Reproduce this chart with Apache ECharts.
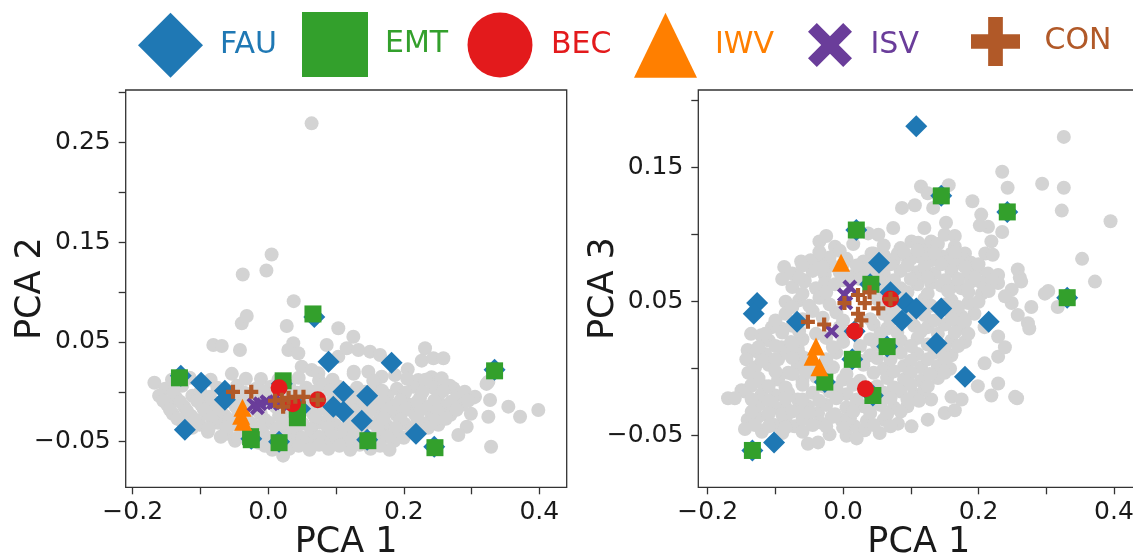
<!DOCTYPE html>
<html>
<head>
<meta charset="utf-8">
<script src="https://cdn.jsdelivr.net/npm/echarts@6/dist/echarts.min.js"></script>
<style>
  html, body { margin: 0; padding: 0; background: #fff; }
  #chart { width: 1133px; height: 559px; }
</style>
</head>
<body>
<div id="chart"></div>
<script>
// tick positions / labelled ticks
var xTicks = [-0.2, -0.1, 0, 0.1, 0.2, 0.3, 0.4];
var xLabels = [-0.2, 0, 0.2, 0.4];
var pc2Ticks = [-0.05, 0, 0.05, 0.1, 0.15, 0.2, 0.25, 0.3];
var pc2Labels = [-0.05, 0.05, 0.15, 0.25];
var pc3Ticks = [-0.05, 0, 0.05, 0.1, 0.15, 0.2];
var pc3Labels = [-0.05, 0.05, 0.15];

// ---- PCA 1 vs PCA 2 ----
var otherPc12 = [
  [0.064,0.269],[0.005,0.1375],[-0.0376,0.1175],[-0.0027,0.1215],[0.0376,0.0908],[-0.039,0.0686],[-0.0317,0.076],
  [0.0273,0.0659],[0.1034,0.0636],[0.1256,0.0552],[-0.081,0.0469],[-0.0686,0.0459],[-0.0417,0.0419],[0.037,0.0486],
  [0.0297,0.0419],[0.0444,0.0386],[0.0863,0.0469],[0.1034,0.0352],[0.1158,0.0436],[0.133,0.0419],[0.1503,0.0402],
  [0.165,0.0369],[0.2314,0.0436],[0.2265,0.0312],[0.2437,0.0336],[0.2584,0.0336],[0.2058,0.0225],[0.0494,0.0252],
  [0.0642,0.0218],[0.074,0.0185],[0.1262,0.0201],[0.1477,0.0201],[0.1675,0.0151],[0.1871,0.0168],[0.2215,0.0118],
  [0.241,0.0145],[0.2559,0.0135],[0.2731,0.0035],[0.3248,0.0101],[-0.168,0.0091],[0.3051,-0.0049],[0.3273,-0.0082],
  [0.3248,-0.025],[0.3543,-0.0149],[0.3716,-0.025],[0.3985,-0.0182],[0.2929,-0.035],[0.2805,-0.0433],[0.3288,-0.055],
  [-0.0537,0.018],[-0.0107,0.0129],[0.075,0.0112],[0.126,0.018],[0.3221,0.0079],
  [-0.152,0.003],[-0.127,0.006],[-0.075,0.004],[-0.046,0.006],[-0.018,0.003],[0.004,0.005],[0.031,0.006],[0.056,0.004],
  [0.081,0.007],[0.104,0.005],[0.131,0.004],[0.158,0.006],[0.19,0.003],[0.214,0.005],[0.244,0.004],[0.268,0.006],
  [-0.161,-0.004],[-0.136,-0.006],[-0.112,-0.004],[-0.086,-0.005],[-0.052,-0.006],[-0.026,-0.004],[0.001,-0.005],
  [0.026,-0.006],[0.052,-0.004],[0.076,-0.006],[0.099,-0.004],[0.124,-0.005],[0.152,-0.006],[0.176,-0.004],
  [0.199,-0.005],[0.224,-0.006],[0.251,-0.004],[0.279,-0.005],[0.302,-0.006],
  [-0.149,-0.013],[-0.124,-0.015],[-0.099,-0.013],[-0.076,-0.015],[-0.049,-0.014],[-0.021,-0.013],[0.011,-0.015],
  [0.034,-0.014],[0.061,-0.013],[0.086,-0.015],[0.109,-0.014],[0.136,-0.013],[0.161,-0.015],[0.184,-0.014],
  [0.209,-0.013],[0.236,-0.015],[0.259,-0.014],[0.286,-0.013],
  [-0.141,-0.022],[-0.114,-0.024],[-0.091,-0.022],[-0.064,-0.024],[-0.041,-0.023],[-0.011,-0.022],[0.016,-0.024],
  [0.039,-0.023],[0.066,-0.022],[0.091,-0.024],[0.114,-0.023],[0.141,-0.022],[0.166,-0.024],[0.189,-0.023],
  [0.216,-0.022],[0.241,-0.024],[0.269,-0.023],[0.299,-0.022],
  [-0.126,-0.031],[-0.101,-0.033],[-0.074,-0.031],[-0.049,-0.033],[-0.024,-0.032],[0.001,-0.031],[0.026,-0.033],
  [0.051,-0.032],[0.076,-0.031],[0.099,-0.033],[0.126,-0.032],[0.151,-0.031],[0.174,-0.033],[0.201,-0.032],
  [0.226,-0.031],[0.251,-0.033],
  [-0.089,-0.04],[-0.061,-0.042],[-0.036,-0.041],[-0.009,-0.04],[0.014,-0.042],[0.041,-0.041],[0.064,-0.04],
  [0.091,-0.042],[0.116,-0.041],[0.139,-0.04],[0.166,-0.042],[0.189,-0.041],[0.214,-0.04],
  [-0.049,-0.049],[-0.014,-0.051],[0.011,-0.05],[0.036,-0.049],[0.059,-0.051],[0.086,-0.05],[0.111,-0.049],
  [0.136,-0.051],[0.159,-0.05],[0.186,-0.049],
  [0.006,-0.058],[0.031,-0.057],[0.061,-0.058],[0.089,-0.057],[0.121,-0.058],[0.151,-0.057],[0.179,-0.058],[0.022,-0.064],
  [-0.142,0.012],[-0.116,0.014],[-0.085,0.012],[-0.033,0.013],[0.015,0.012],[0.045,0.014],[0.095,0.012],[0.155,0.011],
  [0.205,0.013],[0.232,0.012]
];
var otherPc12Dense = [
  [-0.14,-0.001],[-0.1,0.0],[-0.062,0.001],[-0.035,-0.001],[-0.008,0.0],[0.018,0.001],[0.043,-0.001],[0.068,0.0],
  [0.092,0.001],[0.117,-0.001],[0.143,0.0],[0.168,0.001],[0.202,-0.001],[0.228,0.0],[0.258,0.001],[0.29,0.0],
  [-0.155,-0.009],[-0.13,-0.01],[-0.105,-0.009],[-0.082,-0.01],[-0.06,-0.009],[-0.035,-0.01],[-0.008,-0.009],
  [0.018,-0.01],[0.045,-0.009],[0.07,-0.01],[0.095,-0.009],[0.12,-0.01],[0.145,-0.009],[0.17,-0.01],[0.195,-0.009],
  [0.22,-0.01],[0.245,-0.009],[0.27,-0.01],[0.295,-0.009],
  [-0.145,-0.018],[-0.12,-0.019],[-0.095,-0.018],[-0.07,-0.019],[-0.045,-0.018],[-0.016,-0.019],[0.022,-0.018],
  [0.05,-0.019],[0.075,-0.018],[0.1,-0.019],[0.125,-0.018],[0.15,-0.019],[0.175,-0.018],[0.2,-0.019],[0.225,-0.018],
  [0.25,-0.019],[0.278,-0.018],
  [-0.134,-0.027],[-0.108,-0.028],[-0.083,-0.027],[-0.058,-0.028],[-0.032,-0.027],[-0.005,-0.028],[0.02,-0.027],
  [0.045,-0.028],[0.07,-0.027],[0.088,-0.028],[0.12,-0.027],[0.146,-0.028],[0.17,-0.027],[0.195,-0.028],[0.22,-0.027],
  [0.245,-0.028],[0.262,-0.027],
  [-0.112,-0.036],[-0.088,-0.037],[-0.062,-0.036],[-0.038,-0.037],[-0.012,-0.036],[0.012,-0.037],[0.038,-0.036],
  [0.063,-0.037],[0.088,-0.036],[0.112,-0.037],[0.138,-0.036],[0.162,-0.037],[0.188,-0.036],[0.212,-0.037],[0.236,-0.036],
  [-0.07,-0.045],[-0.045,-0.046],[-0.02,-0.045],[0.0,-0.046],[0.025,-0.045],[0.05,-0.046],[0.075,-0.045],[0.1,-0.046],
  [0.125,-0.045],[0.15,-0.046],[0.175,-0.045],[0.2,-0.046],
  [-0.005,-0.054],[0.045,-0.054],[0.075,-0.053],[0.105,-0.054],[0.135,-0.053],[0.165,-0.054]
];
var fauPc12 = [
  [-0.129,0.016],[-0.099,0.009],[-0.064,0.001],[-0.064,-0.008],[-0.123,-0.038],[-0.025,-0.047],[0.016,-0.050],
  [0.020,0.008],[0.047,-0.017],[0.068,0.075],[0.089,0.030],[0.111,0.000],[0.096,-0.015],[0.111,-0.020],
  [0.146,-0.004],[0.138,-0.029],[0.146,-0.048],[0.182,0.029],[0.218,-0.042],[0.245,-0.055],[0.334,0.022]
];
var emtPc12 = [
  [-0.131,0.014],[-0.025,-0.048],[-0.026,-0.045],[0.016,-0.051],[0.022,0.011],[0.043,-0.018],[0.043,-0.026],
  [0.066,0.078],[0.147,-0.049],[0.246,-0.056],[0.334,0.021]
];
var becPc12 = [[0.016,0.004],[0.036,-0.012],[0.073,-0.008]];
var iwvPc12 = [[-0.038,-0.016],[-0.040,-0.024],[-0.037,-0.030]];
var isvPc12 = [[-0.021,-0.013],[-0.012,-0.012],[-0.002,-0.010],[0.008,-0.011],[0.018,-0.012],[-0.016,-0.016]];
var conPc12 = [
  [-0.052,0.000],[-0.025,0.000],[0.010,-0.009],[0.020,-0.008],[0.030,-0.006],[0.040,-0.005],[0.052,-0.005],
  [0.022,-0.015],[0.073,-0.008]
];

// ---- PCA 1 vs PCA 3 ----
var otherPc13 = [
  [0.326,0.173],[0.235,0.147],[0.243,0.135],[0.294,0.138],[0.326,0.135],[0.323,0.118],[0.395,0.110],
  [0.115,0.136],[0.125,0.131],[0.156,0.137],[0.106,0.122],[0.087,0.120],[0.133,0.120],[0.191,0.125],
  [0.204,0.115],[0.214,0.106],[0.202,0.107],[0.235,0.102],[0.219,0.095],[0.074,0.105],[0.120,0.105],
  [0.152,0.109],[0.150,0.100],[0.165,0.099],[0.052,0.100],[0.037,0.101],[0.101,0.095],[0.111,0.094],[0.121,0.091],[0.130,0.095],
  [0.165,0.091],[0.180,0.086],[0.210,0.086],[0.221,0.085],[-0.035,0.095],[-0.025,0.099],
  [0.042,0.086],[0.061,0.084],[0.081,0.086],[0.096,0.081],[0.111,0.084],[0.130,0.081],[0.145,0.084],[0.160,0.086],
  [0.175,0.084],[0.189,0.079],[0.199,0.074],[0.214,0.071],[0.229,0.070],
  [-0.087,0.076],[-0.062,0.080],[-0.037,0.079],[-0.017,0.077],[-0.057,0.066],[-0.027,0.070],[0.012,0.069],[0.022,0.071],
  [0.258,0.074],[0.261,0.068],[0.353,0.082],[0.372,0.065],
  [-0.057,0.065],[-0.027,0.064],[0.130,0.064],[0.160,0.061],[0.189,0.065],[0.229,0.064],[0.249,0.059],[0.263,0.065],
  [0.303,0.058],[-0.085,0.050],[-0.091,0.030],[-0.136,0.026],[-0.121,0.025],[-0.141,0.014],[-0.128,0.013],
  [-0.143,0.007],[-0.096,0.007],[-0.091,0.016],[-0.077,0.020],[-0.067,0.015],[-0.057,0.008],[-0.170,-0.022],
  [-0.150,-0.016],[-0.136,-0.013],[-0.116,-0.013],[-0.096,-0.008],[-0.081,-0.003],[-0.067,0.002],
  [-0.141,-0.038],[-0.126,-0.036],[-0.111,-0.035],[-0.101,-0.042],[-0.145,-0.045],[-0.086,-0.028],[-0.072,-0.043],
  [-0.052,-0.056],[-0.037,-0.055],[-0.081,-0.018],[-0.067,-0.023],[-0.052,-0.028],[-0.037,-0.033],[-0.017,-0.036],
  [-0.003,-0.038],[0.017,-0.043],[0.032,-0.046],[0.054,-0.048],[0.081,-0.041],[0.101,-0.043],[0.125,-0.038],
  [0.150,-0.033],[0.165,-0.031],[0.130,-0.023],[0.160,-0.021],[0.175,-0.023],[0.199,-0.013],[0.219,-0.020],
  [0.229,-0.011],[0.254,-0.021],[0.209,0.004],[0.229,0.009],[0.239,0.016],[0.229,0.024],[0.209,0.031],
  [0.194,0.041],[0.185,0.049],[0.258,0.040],[0.273,0.034],[0.278,0.046],[0.249,0.049],[0.239,0.054],
  [0.317,0.046],[0.298,0.056],[0.275,0.030],[0.257,-0.022],
  [-0.012,0.091],[0.015,0.093],[0.06,0.092],[0.085,0.09],[0.14,0.093],
  [-0.048,0.081],[-0.02,0.083],[0.005,0.082],[0.03,0.08],[0.055,0.083],[0.075,0.081],[0.1,0.082],[0.12,0.083],
  [0.155,0.08],[0.17,0.079],
  [-0.075,0.071],[-0.045,0.073],[-0.005,0.072],[0.035,0.074],[0.06,0.071],[0.085,0.073],[0.11,0.072],[0.135,0.071],
  [0.16,0.073],[0.185,0.071],[0.205,0.064],
  [-0.075,0.061],[-0.04,0.06],[-0.012,0.063],[0.06,0.062],[0.085,0.06],[0.11,0.063],[0.145,0.062],[0.175,0.06],[0.205,0.056],
  [-0.065,0.051],[-0.035,0.053],[0.05,0.052],[0.09,0.054],[0.12,0.052],[0.16,0.051],[0.2,0.05],
  [-0.085,0.041],[-0.045,0.043],[-0.01,0.042],[0.06,0.041],[0.075,0.043],[0.12,0.04],[0.16,0.041],[0.175,0.039],
  [-0.105,0.031],[-0.075,0.032],[-0.005,0.031],[0.045,0.033],[0.065,0.03],[0.105,0.032],[0.125,0.031],[0.15,0.033],[0.17,0.03],
  [-0.11,0.021],[-0.06,0.022],[-0.025,0.023],[0.0,0.02],[0.04,0.022],[0.085,0.021],[0.11,0.023],[0.16,0.021],[0.18,0.02],
  [-0.115,0.011],[-0.085,0.012],[-0.065,0.011],[-0.01,0.012],[0.04,0.01],[0.085,0.012],[0.11,0.011],[0.135,0.012],[0.16,0.01],
  [-0.13,0.001],[-0.11,0.003],[-0.045,0.002],[-0.015,0.001],[0.03,0.003],[0.06,0.0],[0.09,0.002],[0.115,0.001],[0.14,0.002],[0.158,0.0],
  [-0.125,-0.007],[-0.06,-0.009],[-0.04,-0.006],[0.0,-0.008],[0.025,-0.009],[0.065,-0.007],[0.09,-0.008],[0.115,-0.009],[0.14,-0.007],
  [-0.145,-0.017],[-0.12,-0.019],[-0.1,-0.02],[-0.045,-0.018],[-0.02,-0.017],[0.005,-0.019],[0.06,-0.018],[0.085,-0.017],
  [0.105,-0.019],[0.12,-0.016],
  [-0.125,-0.027],[-0.1,-0.029],[-0.065,-0.03],[-0.025,-0.027],[0.005,-0.029],[0.03,-0.028],[0.055,-0.027],[0.075,-0.029],[0.095,-0.028],
  [-0.085,-0.037],[-0.06,-0.038],[-0.035,-0.04],[0.01,-0.037],[0.035,-0.039],[0.06,-0.038],
  [-0.12,-0.047],[-0.09,-0.048],[-0.06,-0.047],[-0.02,-0.049],[0.005,-0.05],[0.02,-0.052]
];
var otherPc13Dense = [
  [-0.035,0.087],[-0.005,0.088],[0.045,0.086],[0.09,0.087],[0.11,0.088],[0.135,0.086],[0.165,0.087],
  [-0.06,0.077],[-0.03,0.076],[0.0,0.078],[0.02,0.077],[0.045,0.076],[0.07,0.078],[0.095,0.077],[0.12,0.076],
  [0.145,0.078],[0.18,0.076],[0.2,0.078],
  [-0.09,0.067],[-0.065,0.068],[0.0,0.066],[0.025,0.067],[0.05,0.068],[0.075,0.066],[0.1,0.067],[0.125,0.068],
  [0.15,0.066],[0.17,0.067],[0.195,0.068],[0.22,0.066],
  [-0.06,0.056],[-0.025,0.057],[0.055,0.058],[0.095,0.057],[0.125,0.056],[0.155,0.058],[0.185,0.057],[0.215,0.058],
  [-0.075,0.046],[-0.05,0.047],[-0.02,0.048],[0.065,0.046],[0.13,0.047],[0.15,0.048],[0.17,0.046],
  [-0.1,0.036],[-0.06,0.037],[-0.03,0.038],[0.0,0.036],[0.04,0.037],[0.07,0.036],[0.1,0.038],[0.135,0.036],
  [0.16,0.037],[0.18,0.035],
  [-0.115,0.026],[-0.09,0.027],[-0.065,0.028],[-0.04,0.026],[0.0,0.027],[0.055,0.026],[0.08,0.027],[0.115,0.028],
  [0.14,0.026],[0.165,0.027],[0.185,0.026],
  [-0.125,0.016],[-0.1,0.017],[-0.075,0.018],[-0.015,0.016],[0.025,0.017],[0.05,0.018],[0.075,0.016],[0.1,0.017],
  [0.125,0.018],[0.15,0.016],[0.17,0.017],
  [-0.12,0.006],[-0.1,0.007],[-0.075,0.008],[-0.05,0.006],[-0.025,0.007],[0.025,0.006],[0.05,0.008],[0.07,0.007],
  [0.1,0.006],[0.125,0.007],[0.15,0.008],
  [-0.14,-0.003],[-0.1,-0.002],[-0.075,-0.004],[-0.055,-0.003],[-0.03,-0.002],[0.005,-0.004],[0.045,-0.003],
  [0.075,-0.002],[0.1,-0.003],[0.128,-0.004],[0.15,-0.003],
  [-0.135,-0.012],[-0.11,-0.013],[-0.085,-0.014],[-0.06,-0.012],[-0.03,-0.013],[-0.01,-0.014],[0.015,-0.012],
  [0.05,-0.013],[0.075,-0.014],[0.1,-0.012],[0.125,-0.013],
  [-0.16,-0.022],[-0.135,-0.023],[-0.11,-0.024],[-0.085,-0.022],[-0.06,-0.023],[-0.035,-0.024],[-0.01,-0.022],
  [0.02,-0.023],[0.045,-0.024],[0.07,-0.022],[0.095,-0.023],[0.112,-0.024],
  [-0.135,-0.032],[-0.11,-0.033],[-0.09,-0.034],[-0.075,-0.032],[-0.05,-0.033],[-0.012,-0.034],[0.015,-0.032],
  [0.04,-0.033],[0.065,-0.034],[0.085,-0.032],
  [-0.13,-0.042],[-0.11,-0.043],[-0.085,-0.044],[-0.045,-0.042],[-0.025,-0.043],[0.0,-0.044],[0.045,-0.042],[0.07,-0.043]
];
var fauPc13 = [
  [0.108,0.181],[0.145,0.129],[0.2425,0.117],[0.0195,0.1035],[0.053,0.079],[0.040,0.063],[0.070,0.057],
  [-0.127,0.049],[-0.132,0.041],[-0.068,0.035],[0.093,0.049],[0.108,0.045],[0.087,0.036],[0.145,0.045],
  [0.215,0.035],[0.138,0.019],[0.180,-0.006],[0.331,0.053],[0.065,0.0165],[0.0136,0.007],[-0.027,-0.010],
  [0.044,-0.020],[0.017,0.028],[-0.102,-0.055],[-0.134,-0.061]
];
var emtPc13 = [
  [0.145,0.129],[0.2425,0.117],[0.0195,0.1035],[0.041,0.063],[0.331,0.053],[0.065,0.0165],[0.0136,0.007],
  [-0.027,-0.010],[0.044,-0.020],[-0.134,-0.061]
];
var becPc13 = [[0.070,0.052],[0.017,0.028],[0.033,-0.015]];
var iwvPc13 = [[-0.003,0.079],[-0.040,0.0165],[-0.045,0.009],[-0.035,0.001]];
var isvPc13 = [[0.010,0.061],[0.002,0.055],[0.004,0.049],[-0.017,0.028]];
var conPc13 = [
  [-0.052,0.035],[-0.028,0.033],[0.002,0.049],[0.022,0.055],[0.039,0.057],[0.032,0.049],[0.052,0.045],
  [0.022,0.041],[0.027,0.036],[0.070,0.052]
];

var FONT = 'DejaVu Sans';
var xSymbol = 'path://M2,0 L5,3 L8,0 L10,2 L7,5 L10,8 L8,10 L5,7 L2,10 L0,8 L3,5 L0,2 Z';
var plusSymbol = 'path://M3.5,0 L6.5,0 L6.5,3.5 L10,3.5 L10,6.5 L6.5,6.5 L6.5,10 L3.5,10 L3.5,6.5 L0,6.5 L0,3.5 L3.5,3.5 Z';

var groups = [
  { name: 'FAU', color: '#1f78b4', symbol: 'diamond', size: 22, d: [fauPc12, fauPc13] },
  { name: 'EMT', color: '#33a02c', symbol: 'rect', size: 17, d: [emtPc12, emtPc13] },
  { name: 'BEC', color: '#e31a1c', symbol: 'circle', size: 17, d: [becPc12, becPc13] },
  { name: 'IWV', color: '#ff7f00', symbol: 'triangle', size: 18, d: [iwvPc12, iwvPc13] },
  { name: 'ISV', color: '#6a3d9a', symbol: xSymbol, size: 15, d: [isvPc12, isvPc13] },
  { name: 'CON', color: '#b15928', symbol: plusSymbol, size: 14, d: [conPc12, conPc13] }
];

// legend placement (pixels)
var legendLayout = {
  FAU: { left: 138, top: 12.7, w: 65, h: 65, pad: 12 },
  EMT: { left: 302, top: 12, w: 66, h: 65, pad: 12 },
  BEC: { left: 467.5, top: 12.5, w: 66, h: 65, pad: 13 },
  IWV: { left: 634, top: 12.7, w: 63, h: 65, pad: 13 },
  ISV: { left: 808, top: 23, w: 45, h: 44, pad: 13 },
  CON: { left: 971, top: 17, w: 50, h: 49, pad: 19 }
};

function fmt(dec) {
  return function (v) { return v.toFixed(dec).replace('-', '\u2212'); };
}

function xAxisFor(idx, min, max) {
  return {
    type: 'value', gridIndex: idx, min: min, max: max,
    name: 'PCA 1', nameLocation: 'middle', nameGap: 38, nameMoveOverlap: false,
    nameTextStyle: { fontSize: 35, color: '#1a1a1a', fontFamily: FONT },
    axisLine: { show: false, onZero: false },
    axisTick: { show: true, length: 7, customValues: xTicks, lineStyle: { color: '#333', width: 1.3 } },
    axisLabel: { customValues: xLabels, formatter: fmt(1), fontSize: 25, color: '#1a1a1a', fontFamily: FONT, margin: 13 },
    splitLine: { show: false }
  };
}
function yAxisFor(idx, name, min, max, ticks, labels) {
  return {
    type: 'value', gridIndex: idx, min: min, max: max,
    name: name, nameLocation: 'middle', nameGap: 77, nameMoveOverlap: false,
    nameTextStyle: { fontSize: 35, color: '#1a1a1a', fontFamily: FONT },
    axisLine: { show: false, onZero: false },
    axisTick: { show: true, length: 7, customValues: ticks, lineStyle: { color: '#333', width: 1.3 } },
    axisLabel: { customValues: labels, formatter: fmt(2), fontSize: 25, color: '#1a1a1a', fontFamily: FONT, margin: 15 },
    splitLine: { show: false }
  };
}

var series = [];
[otherPc12.concat(otherPc12Dense), otherPc13.concat(otherPc13Dense)].forEach(function (d, i) {
  series.push({
    type: 'scatter', name: 'other', xAxisIndex: i, yAxisIndex: i, data: d,
    symbol: 'circle', symbolSize: 14, itemStyle: { color: '#d3d3d3', opacity: 1 },
    emphasis: { disabled: true }, z: 1
  });
});
groups.forEach(function (g, gi) {
  [0, 1].forEach(function (i) {
    series.push({
      type: 'scatter', name: g.name, xAxisIndex: i, yAxisIndex: i, data: g.d[i],
      symbol: g.symbol, symbolSize: g.size, itemStyle: { color: g.color, opacity: 1 },
      emphasis: { disabled: true }, z: 2 + gi
    });
  });
});

var legends = groups.map(function (g) {
  var L = legendLayout[g.name];
  return {
    left: L.left, top: L.top, padding: 0, itemWidth: L.w, itemHeight: L.h,
    selectedMode: false,
    data: [{ name: g.name, icon: g.symbol, itemStyle: { color: g.color },
             textStyle: { color: g.color, fontSize: 30, fontFamily: FONT, padding: [0, 0, 0, L.pad] } }]
  };
});

var chart = echarts.init(document.getElementById('chart'), null, { renderer: 'canvas' });
chart.setOption({
  animation: false,
  backgroundColor: '#fff',
  legend: legends,
  grid: [
    { left: 125.7, top: 90, width: 441, height: 397.3, show: true, borderColor: '#333', borderWidth: 1.3, outerBoundsMode: 'none' },
    { left: 698.3, top: 90, width: 441, height: 397.3, show: true, borderColor: '#333', borderWidth: 1.3, outerBoundsMode: 'none' }
  ],
  xAxis: [xAxisFor(0, -0.2103, 0.4404), xAxisFor(1, -0.2139, 0.4375)],
  yAxis: [
    yAxisFor(0, 'PCA 2', -0.0957, 0.3024, pc2Ticks, pc2Labels),
    yAxisFor(1, 'PCA 3', -0.0885, 0.208, pc3Ticks, pc3Labels)
  ],
  series: series
});
</script>
</body>
</html>
